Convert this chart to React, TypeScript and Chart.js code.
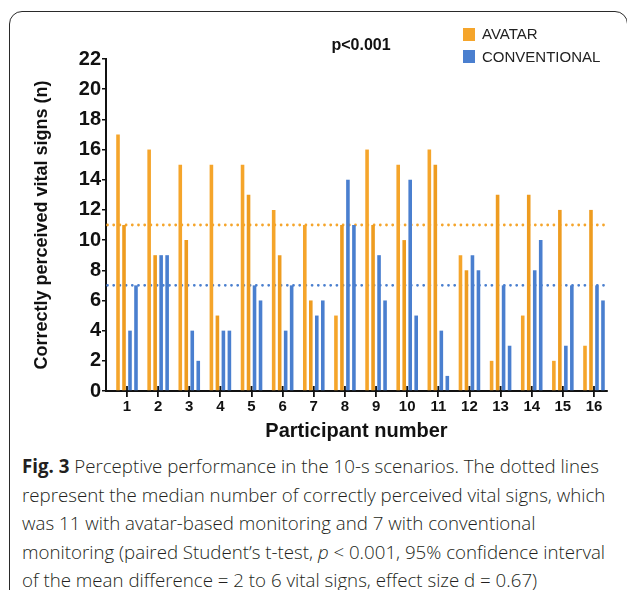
import React, { useEffect, useRef } from "react";
import { Chart, registerables } from "chart.js";

Chart.register(...registerables);

const participants = [1, 2, 3, 4, 5, 6, 7, 8, 9, 10, 11, 12, 13, 14, 15, 16];
const avatarA = [17, 16, 15, 15, 15, 12, 11, 5, 16, 15, 16, 9, 2, 5, 2, 3];
const avatarB = [11, 9, 10, 5, 13, 9, 6, 11, 11, 10, 15, 8, 13, 13, 12, 12];
const convA = [4, 9, 4, 4, 7, 4, 5, 14, 9, 14, 4, 9, 7, 8, 3, 7];
const convB = [7, 9, 2, 4, 6, 7, 6, 11, 6, 5, 1, 8, 3, 10, 7, 6];
const medianLabels = ["AVATAR", "CONVENTIONAL"];
const medianValues = [11, 7];
const yTicks = [0, 2, 4, 6, 8, 10, 12, 14, 16, 18, 20, 22];

const ORANGE = "#F5A52B";
const ORANGE2 = "#EE9C20";
const BLUE = "#4A7FCF";
const medianColors = [ORANGE, BLUE];

const FONT = "'Liberation Sans', Arial, sans-serif";

const axesPlugin = {
  id: "axesExtras",
  beforeDatasetsDraw(chart: any) {
    const { ctx, chartArea, scales } = chart;
    const y = scales.y;
    ctx.save();
    medianValues.forEach((v, i) => {
      const py = y.getPixelForValue(v);
      ctx.beginPath();
      ctx.strokeStyle = medianColors[i];
      ctx.lineWidth = 2.8;
      ctx.lineCap = "round";
      ctx.setLineDash([0, 6.2]);
      ctx.moveTo(chartArea.left + 1.5, py);
      ctx.lineTo(chartArea.right, py);
      ctx.stroke();
    });
    ctx.restore();
  },
  afterDraw(chart: any) {
    const { ctx, scales } = chart;
    const x = scales.x;
    const y0 = scales.y.getPixelForValue(0);
    ctx.save();
    ctx.strokeStyle = "#111";
    ctx.lineWidth = 1.8;
    participants.forEach((p) => {
      const px = x.getPixelForValue(p);
      ctx.beginPath();
      ctx.moveTo(px, y0 - 5);
      ctx.lineTo(px, y0);
      ctx.stroke();
    });
    ctx.restore();
  },
};

function ChartView() {
  const ref = useRef<HTMLCanvasElement | null>(null);
  useEffect(() => {
    if (!ref.current) return;
    const mk = (arr: number[]) => participants.map((p, i) => ({ x: p, y: arr[i] }));
    const chart = new Chart(ref.current, {
      type: "bar",
      data: {
        datasets: [
          { label: "AVATAR", data: mk(avatarA), backgroundColor: ORANGE },
          { label: "AVATAR", data: mk(avatarB), backgroundColor: ORANGE2 },
          { label: "CONVENTIONAL", data: mk(convA), backgroundColor: BLUE },
          { label: "CONVENTIONAL", data: mk(convB), backgroundColor: BLUE },
        ],
      },
      options: {
        responsive: false,
        animation: false,
        devicePixelRatio: 1,
        datasets: {
          bar: { categoryPercentage: 0.77, barPercentage: 0.6, borderWidth: 0 },
        },
        layout: { padding: { left: 29, right: 20, top: 59, bottom: 0 } },
        plugins: { legend: { display: false }, tooltip: { enabled: false }, title: { display: false } },
        scales: {
          x: {
            type: "linear",
            offset: false,
            bounds: "data",
            min: 0.3254,
            max: 16.418,
            afterFit: (s: any) => {
              s.height = 54;
            },
            afterBuildTicks: (s: any) => {
              s.ticks = participants.map((v) => ({ value: v }));
            },
            ticks: {
              padding: 1,
              color: "#111",
              font: { family: FONT, size: 15, weight: "bold" },
              callback: (v: any) => String(v),
            },
            grid: { offset: false, drawOnChartArea: false, drawTicks: true, tickLength: 6, color: "#111", lineWidth: 1.8 },
            border: { display: true, color: "#111", width: 2 },
            title: {
              display: true,
              text: "Participant number",
              color: "#111",
              font: { family: FONT, size: 20, weight: "bold" },
              padding: { top: 0, bottom: 2 },
            },
          },
          y: {
            min: 0,
            max: 22,
            afterFit: (s: any) => {
              s.width = 77;
            },
            afterBuildTicks: (s: any) => {
              s.ticks = yTicks.map((v) => ({ value: v }));
            },
            ticks: {
              padding: 1,
              color: "#111",
              font: { family: FONT, size: 20, weight: "bold" },
            },
            grid: { drawOnChartArea: false, drawTicks: true, tickLength: 4, color: "#111", lineWidth: 1.5 },
            border: { display: true, color: "#111", width: 2 },
            title: {
              display: true,
              text: "Correctly perceived vital signs (n)",
              color: "#111",
              font: { family: FONT, size: 18, weight: "bold" },
              padding: { top: 2, bottom: 0 },
            },
          },
        },
      },
      plugins: [axesPlugin],
    } as any);
    return () => chart.destroy();
  }, []);
  return <canvas ref={ref} width={627} height={445} style={{ position: "absolute", left: 0, top: 0, width: 627, height: 445 }} />;
}

export default function App() {
  return (
    <div style={{ position: "absolute", left: 0, top: 0, width: 627, height: 590, overflow: "hidden", background: "#fff" }}>
      <div
        style={{
          position: "absolute",
          left: 9,
          top: 11,
          width: 617,
          height: 640,
          border: "1.5px solid #2a2a2a",
          borderRadius: 13,
        }}
      />
      <ChartView />
      <div
        style={{
          position: "absolute",
          left: 0,
          width: 722,
          top: 36,
          textAlign: "center",
          fontFamily: FONT,
          fontWeight: "bold",
          fontSize: 16,
          color: "#111",
          lineHeight: "18px",
        }}
      >
        p&lt;0.001
      </div>
      {medianLabels.map((lab, i) => (
        <div
          key={lab}
          style={{ position: "absolute", left: 463, top: 27 + i * 22.5, height: 14, display: "flex", alignItems: "center" }}
        >
          <div style={{ width: 12, height: 13, background: medianColors[i] }} />
          <span style={{ marginLeft: 7, fontFamily: FONT, fontSize: 15, color: "#222", lineHeight: "14px" }}>{lab}</span>
        </div>
      ))}
      <div
        style={{
          position: "absolute",
          left: 22,
          top: 452,
          fontFamily: "'Open Sans', sans-serif",
          fontSize: 18.7,
          fontWeight: 300,
          lineHeight: "28.5px",
          color: "#231f20",
          whiteSpace: "nowrap",
        }}
      >
        <b style={{ fontWeight: 700 }}>Fig. 3</b> Perceptive performance in the 10-s scenarios. The dotted lines
        <br />
        represent the median number of correctly perceived vital signs, which
        <br />
        was 11 with avatar-based monitoring and 7 with conventional
        <br />
        monitoring (paired Student’s t-test, <i>p</i> &lt; 0.001, 95% confidence interval
        <br />
        of the mean difference = 2 to 6 vital signs, effect size d = 0.67)
      </div>
    </div>
  );
}
